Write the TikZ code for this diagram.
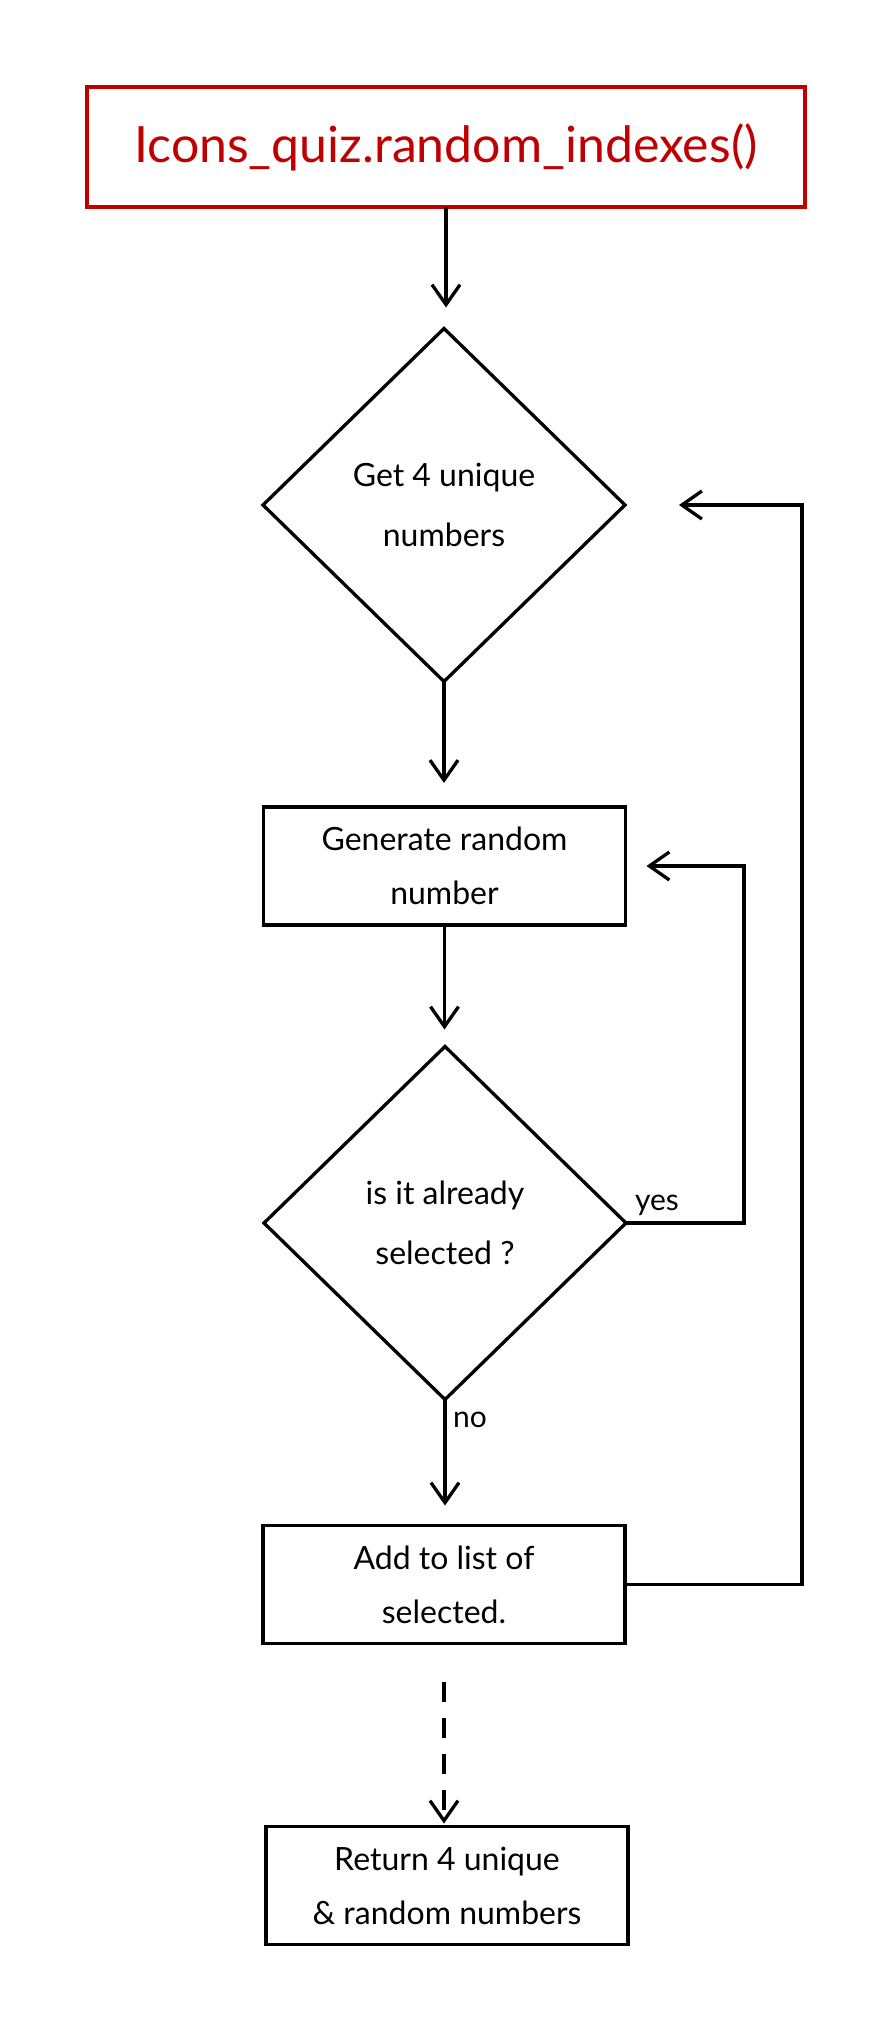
\documentclass[tikz,border=0pt]{standalone}
\usepackage{fontspec}
\setmainfont{Lato}
\usetikzlibrary{arrows.meta,shapes.geometric}
\definecolor{titlered}{RGB}{192,0,0}
\tikzset{
  every node/.style={outer sep=0pt, inner sep=0pt, align=center},
  txt/.style={font=\fontsize{32}{54}\selectfont},
  stepbox/.style={draw, line width=3.3pt, rectangle, txt, minimum width=362pt, minimum height=118pt},
  decision/.style={draw, line width=3.3pt, diamond, font=\fontsize{32}{60}\selectfont, minimum width=362pt, minimum height=353pt},
  titlebox/.style={draw=titlered, line width=3.3pt, rectangle, text=titlered,
    font=\fontsize{50}{54}\selectfont, minimum width=718pt, minimum height=120pt},
  arr/.style={line width=3.3pt, -{Straight Barb[length=20pt,width=28pt,line width=3.3pt]}},
  lbl/.style={font=\fontsize{30}{36}\selectfont}
}
\begin{document}
\begin{tikzpicture}[x=1pt,y=-1pt]
\useasboundingbox[fill=white] (0,0) rectangle (880,2027);
\node[titlebox] (title) at (446,147) {Icons\_quiz.random\_indexes()};
\node[decision] (d1) at (444,505) {Get 4 unique\\numbers};
\node[stepbox] (b2) at (444.5,866) {Generate random\\number};
\node[decision] (d2) at (445,1223) {is it already\\selected ?};
\node[stepbox] (b3) at (444,1584.5) {Add to list of\\selected.};
\node[stepbox] (b4) at (447,1885.5) {Return 4 unique\\\& random numbers};
\node[lbl] (yes) at (657,1205) {yes};
\node[lbl] (no) at (470,1420) {no};

\draw[arr, shorten >=21pt] (title.south) -- (title.south |- d1.north);
\draw[arr, shorten >=24pt] (d1.south) -- (d1.south |- b2.north);
\draw[arr, shorten >=17pt] (b2.south) -- (b2.south |- d2.north);
\draw[arr, shorten >=20pt] (d2.south) -- (d2.south |- b3.north);
\draw[arr, dash pattern=on 20pt off 16pt, shorten <=38pt, shorten >=3pt] (b3.south) -- (b3.south |- b4.north);
\draw[arr, shorten >=21pt] (d2.east) -- ++(118,0) |- (b2.east);
\draw[arr, shorten >=54pt] (b3.east) -- ++(177,0) |- (d1.east);
\end{tikzpicture}
\end{document}
